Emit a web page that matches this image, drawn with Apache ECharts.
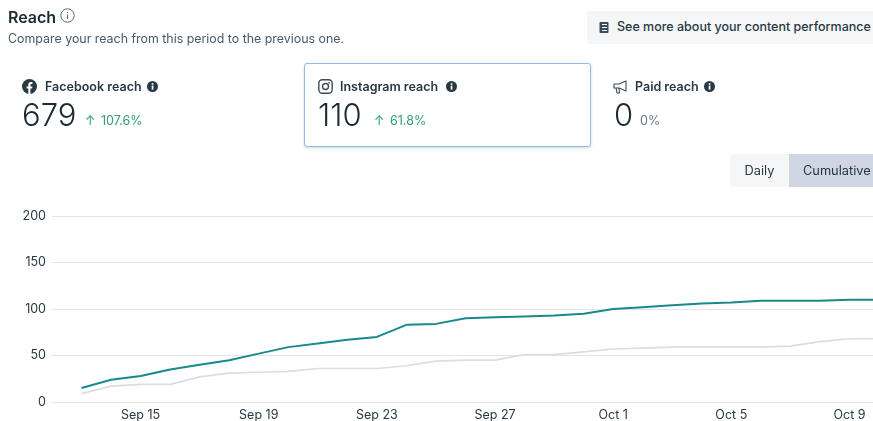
<!DOCTYPE html>
<html>
<head>
<meta charset="utf-8">
<script src="https://cdn.jsdelivr.net/npm/echarts@6/dist/echarts.min.js"></script>
<style>
  html, body { margin: 0; padding: 0; background: #fff; overflow: hidden; }
  body { width: 873px; height: 421px; position: relative; font-family: Inter, "Noto Sans", sans-serif; color: #1c2b33; }
  #chart { position: absolute; left: 0; top: 0; width: 873px; height: 421px; }
  .abs { position: absolute; white-space: nowrap; z-index: 2; }
  .title { font-size: 16px; font-weight: 600; line-height: 18px; }
  .sub { font-size: 12.4px; line-height: 16px; color: #465a69; }
  .label { font-size: 12.5px; font-weight: 600; line-height: 16px; color: #283943; }
  .num { font-size: 31px; line-height: 36px; font-weight: 300; }
  .pct { font-size: 12.5px; line-height: 16px; color: #31a06e; }
  .card { left: 304px; top: 63px; width: 285px; height: 82px; border: 1px solid #8fbde4; border-radius: 3px; box-shadow: 0 1px 3px rgba(60, 90, 120, .25); background: #fff; }
  .btn { left: 587px; top: 11px; width: 290px; height: 33px; background: #f5f6f8; border-radius: 4px; }
  .btnText { font-size: 12.5px; line-height: 16px; font-weight: 500; color: #283943; }
  .tab { top: 154px; height: 33px; line-height: 33px; font-size: 12.8px; color: #283943; }
  svg { display: block; }
</style>
</head>
<body>
<div id="chart"></div>

<div class="abs title" style="left:8px;top:8px">Reach</div>
<svg class="abs" style="left:60px;top:8px" width="15" height="15" viewBox="0 0 15 15"><circle cx="7.5" cy="7.5" r="6.7" fill="none" stroke="#5a6b77"/><rect x="7" y="6.5" width="1" height="4.5" fill="#5a6b77"/><rect x="7" y="4" width="1" height="1.2" fill="#5a6b77"/></svg>
<div class="abs sub" style="left:8px;top:31px">Compare your reach from this period to the previous one.</div>

<div class="abs btn"></div>
<svg class="abs" style="left:599px;top:22px" width="10" height="11" viewBox="0 0 10 11"><rect x="0.5" width="9" height="11" rx="1" fill="#3c4b55"/><rect x="3" y="2" width="5" height="1" fill="#f5f6f8"/><rect x="3" y="5" width="5" height="1" fill="#f5f6f8"/><rect x="3" y="8" width="5" height="1" fill="#f5f6f8"/></svg>
<div class="abs btnText" style="left:617px;top:19px">See more about your content performance</div>

<svg class="abs" style="left:22px;top:79px" width="15" height="15" viewBox="0 0 15 15"><circle cx="7.5" cy="7.5" r="7.5" fill="#283943"/><path d="M6.3 15V9.6H4.5V7.5h1.8V5.9c0-1.8 1.1-2.8 2.7-2.8.8 0 1.5.1 1.5.1v1.8h-.9c-.9 0-1.2.5-1.2 1.1v1.4h2l-.3 2.1H8.4V15z" fill="#fff"/></svg>
<div class="abs label" style="left:45px;top:79px">Facebook reach</div>
<svg class="abs" style="left:147px;top:81px" width="11" height="11" viewBox="0 0 11 11"><circle cx="5.5" cy="5.5" r="5.5" fill="#283943"/><rect x="4.7" y="4.6" width="1.7" height="4" fill="#fff"/><rect x="4.7" y="2.2" width="1.7" height="1.6" fill="#fff"/></svg>
<div class="abs num" style="left:22px;top:97px">679</div>
<div class="abs pct" style="left:85px;top:113px">↑</div>
<div class="abs pct" style="left:101px;top:113px">107.6%</div>

<div class="abs card"></div>
<svg class="abs" style="left:318px;top:79px" width="15" height="15" viewBox="0 0 15 15"><rect x="0.8" y="0.8" width="13.4" height="13.4" rx="3.5" fill="none" stroke="#3c4b55" stroke-width="1.4"/><circle cx="7.5" cy="7.5" r="3" fill="none" stroke="#3c4b55" stroke-width="1.4"/><circle cx="11.2" cy="3.8" r=".9" fill="#3c4b55"/></svg>
<div class="abs label" style="left:340px;top:79px">Instagram reach</div>
<svg class="abs" style="left:446px;top:81px" width="11" height="11" viewBox="0 0 11 11"><circle cx="5.5" cy="5.5" r="5.5" fill="#283943"/><rect x="4.7" y="4.6" width="1.7" height="4" fill="#fff"/><rect x="4.7" y="2.2" width="1.7" height="1.6" fill="#fff"/></svg>
<div class="abs num" style="left:318px;top:97px">110</div>
<div class="abs pct" style="left:374px;top:113px">↑</div>
<div class="abs pct" style="left:390px;top:113px">61.8%</div>

<svg class="abs" style="left:613px;top:80px" width="15" height="14" viewBox="0 0 15 14"><path d="M1 4h5l7-3v10L6 8H1zM3 8l1 5h2.5L6 8" fill="none" stroke="#3c4b55" stroke-width="1.1" stroke-linejoin="round"/></svg>
<div class="abs label" style="left:635px;top:79px">Paid reach</div>
<svg class="abs" style="left:704px;top:81px" width="11" height="11" viewBox="0 0 11 11"><circle cx="5.5" cy="5.5" r="5.5" fill="#283943"/><rect x="4.7" y="4.6" width="1.7" height="4" fill="#fff"/><rect x="4.7" y="2.2" width="1.7" height="1.6" fill="#fff"/></svg>
<div class="abs num" style="left:614px;top:97px">0</div>
<div class="abs pct" style="left:640px;top:113px;color:#6b7a85">0%</div>

<div class="abs tab" style="left:730px;width:59px;background:#f5f6f8;border-radius:4px 0 0 4px;text-align:center">Daily</div>
<div class="abs tab" style="left:789px;width:90px;background:#cfd5e2;padding-left:14px;box-sizing:border-box">Cumulative</div>

<script>
// first slot (Sep 12) has no data, it only keeps the gap after the y axis
const days = ['Sep 12', 'Sep 13', 'Sep 14', 'Sep 15', 'Sep 16', 'Sep 17', 'Sep 18', 'Sep 19', 'Sep 20', 'Sep 21',
  'Sep 22', 'Sep 23', 'Sep 24', 'Sep 25', 'Sep 26', 'Sep 27', 'Sep 28', 'Sep 29', 'Sep 30', 'Oct 1',
  'Oct 2', 'Oct 3', 'Oct 4', 'Oct 5', 'Oct 6', 'Oct 7', 'Oct 8', 'Oct 9', 'Oct 10'];
const currentReach = [null, 15, 24, 28, 35, 40, 45, 52, 59, 63, 67, 70, 83, 84, 90, 91, 92, 93, 95, 100,
  102, 104, 106, 107, 109, 109, 109, 110, 110];
const previousReach = [null, 9, 17, 19, 19, 27, 31, 32, 33, 36, 36, 36, 39, 44, 45, 45, 51, 51, 54, 57,
  58, 59, 59, 59, 59, 60, 65, 68, 68];
const yTicks = [0, 50, 100, 150, 200];

const myChart = echarts.init(document.getElementById('chart'));

myChart.setOption({
  animation: false,
  grid: {
    left: 52,
    top: 216,
    width: 827,
    height: 186,
    outerBoundsMode: 'none' // the chart runs off the right edge of the page, don't squeeze it in
  },
  xAxis: {
    type: 'category',
    data: days,
    boundaryGap: false,
    axisLine: { show: false },
    axisTick: { show: false },
    axisLabel: {
      interval: (i) => i % 4 === 3,
      color: '#283943',
      fontFamily: 'Inter',
      fontSize: 12.5,
      margin: 7
    }
  },
  yAxis: {
    type: 'value',
    min: yTicks[0],
    max: yTicks[yTicks.length - 1],
    interval: yTicks[1] - yTicks[0],
    axisLine: { show: false },
    axisTick: { show: false },
    axisLabel: {
      color: '#283943',
      fontFamily: 'Inter',
      fontSize: 12.5,
      margin: 6
    },
    splitLine: { lineStyle: { color: '#e4e5ea', width: 1 } }
  },
  series: [
    {
      name: 'Previous period',
      type: 'line',
      data: previousReach,
      showSymbol: false,
      lineStyle: { color: '#dcdde3', width: 1.7 }
    },
    {
      name: 'Current period',
      type: 'line',
      data: currentReach,
      showSymbol: false,
      lineStyle: { color: '#1a898c', width: 2 }
    }
  ]
});
</script>
</body>
</html>
